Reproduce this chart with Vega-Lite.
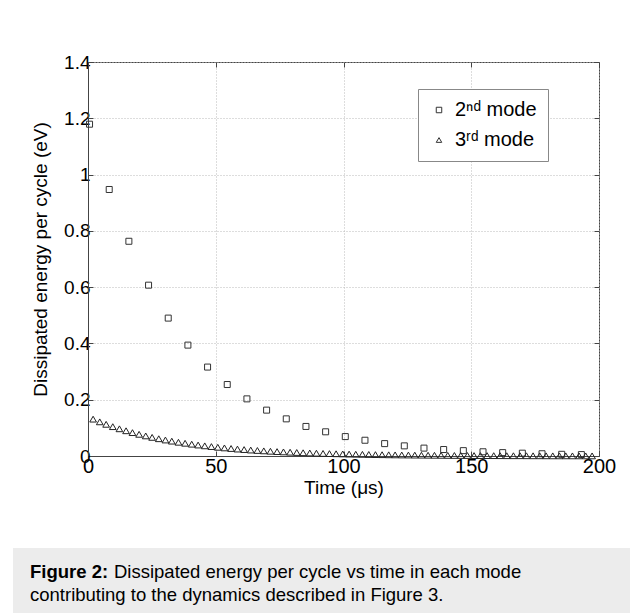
{
  "$schema": "https://vega.github.io/schema/vega-lite/v6.json",
  "padding": {"left": 13, "top": 52, "right": 0, "bottom": 0},
  "background": "white",
  "spacing": 50,
  "config": {"font": "Liberation Sans", "view": {"stroke": null}},
  "vconcat": [
    {
      "spacing": 0,
      "hconcat": [
        {
          "width": 1,
          "height": 394,
          "data": {"values": []},
          "mark": {"type": "point", "opacity": 0}
        },
        {
          "width": 511,
          "height": 394,
          "view": {"stroke": "#444", "strokeWidth": 1},
          "data": {"values": [
            {"t": 0.6, "e": 1.179, "mode": "2nd"},
            {"t": 8.3, "e": 0.947, "mode": "2nd"},
            {"t": 16.0, "e": 0.763, "mode": "2nd"},
            {"t": 23.7, "e": 0.607, "mode": "2nd"},
            {"t": 31.4, "e": 0.490, "mode": "2nd"},
            {"t": 39.1, "e": 0.394, "mode": "2nd"},
            {"t": 46.8, "e": 0.316, "mode": "2nd"},
            {"t": 54.5, "e": 0.254, "mode": "2nd"},
            {"t": 62.2, "e": 0.203, "mode": "2nd"},
            {"t": 69.9, "e": 0.163, "mode": "2nd"},
            {"t": 77.6, "e": 0.132, "mode": "2nd"},
            {"t": 85.3, "e": 0.105, "mode": "2nd"},
            {"t": 93.0, "e": 0.086, "mode": "2nd"},
            {"t": 100.7, "e": 0.069, "mode": "2nd"},
            {"t": 108.4, "e": 0.056, "mode": "2nd"},
            {"t": 116.1, "e": 0.044, "mode": "2nd"},
            {"t": 123.8, "e": 0.036, "mode": "2nd"},
            {"t": 131.5, "e": 0.028, "mode": "2nd"},
            {"t": 139.2, "e": 0.023, "mode": "2nd"},
            {"t": 146.9, "e": 0.019, "mode": "2nd"},
            {"t": 154.6, "e": 0.015, "mode": "2nd"},
            {"t": 162.3, "e": 0.012, "mode": "2nd"},
            {"t": 170.0, "e": 0.010, "mode": "2nd"},
            {"t": 177.7, "e": 0.008, "mode": "2nd"},
            {"t": 185.4, "e": 0.006, "mode": "2nd"},
            {"t": 193.1, "e": 0.005, "mode": "2nd"},
            {"t": 2.0, "e": 0.131, "mode": "3rd"},
            {"t": 4.6, "e": 0.1214, "mode": "3rd"},
            {"t": 7.1, "e": 0.1126, "mode": "3rd"},
            {"t": 9.7, "e": 0.1043, "mode": "3rd"},
            {"t": 12.3, "e": 0.0967, "mode": "3rd"},
            {"t": 14.9, "e": 0.0897, "mode": "3rd"},
            {"t": 17.4, "e": 0.0831, "mode": "3rd"},
            {"t": 20.0, "e": 0.0771, "mode": "3rd"},
            {"t": 22.6, "e": 0.0714, "mode": "3rd"},
            {"t": 25.1, "e": 0.0662, "mode": "3rd"},
            {"t": 27.7, "e": 0.0614, "mode": "3rd"},
            {"t": 30.3, "e": 0.0569, "mode": "3rd"},
            {"t": 32.8, "e": 0.0528, "mode": "3rd"},
            {"t": 35.4, "e": 0.0489, "mode": "3rd"},
            {"t": 38.0, "e": 0.0453, "mode": "3rd"},
            {"t": 40.6, "e": 0.0420, "mode": "3rd"},
            {"t": 43.1, "e": 0.0390, "mode": "3rd"},
            {"t": 45.7, "e": 0.0361, "mode": "3rd"},
            {"t": 48.3, "e": 0.0335, "mode": "3rd"},
            {"t": 50.8, "e": 0.0310, "mode": "3rd"},
            {"t": 53.4, "e": 0.0288, "mode": "3rd"},
            {"t": 56.0, "e": 0.0267, "mode": "3rd"},
            {"t": 58.5, "e": 0.0247, "mode": "3rd"},
            {"t": 61.1, "e": 0.0229, "mode": "3rd"},
            {"t": 63.7, "e": 0.0212, "mode": "3rd"},
            {"t": 66.3, "e": 0.0197, "mode": "3rd"},
            {"t": 68.8, "e": 0.0183, "mode": "3rd"},
            {"t": 71.4, "e": 0.0169, "mode": "3rd"},
            {"t": 74.0, "e": 0.0157, "mode": "3rd"},
            {"t": 76.5, "e": 0.0146, "mode": "3rd"},
            {"t": 79.1, "e": 0.0135, "mode": "3rd"},
            {"t": 81.7, "e": 0.0125, "mode": "3rd"},
            {"t": 84.2, "e": 0.0116, "mode": "3rd"},
            {"t": 86.8, "e": 0.0108, "mode": "3rd"},
            {"t": 89.4, "e": 0.0100, "mode": "3rd"},
            {"t": 92.0, "e": 0.0092, "mode": "3rd"},
            {"t": 94.5, "e": 0.0086, "mode": "3rd"},
            {"t": 97.1, "e": 0.0080, "mode": "3rd"},
            {"t": 99.7, "e": 0.0074, "mode": "3rd"},
            {"t": 102.2, "e": 0.0068, "mode": "3rd"},
            {"t": 104.8, "e": 0.0063, "mode": "3rd"},
            {"t": 107.4, "e": 0.0059, "mode": "3rd"},
            {"t": 109.9, "e": 0.0054, "mode": "3rd"},
            {"t": 112.5, "e": 0.0050, "mode": "3rd"},
            {"t": 115.1, "e": 0.0047, "mode": "3rd"},
            {"t": 117.7, "e": 0.0043, "mode": "3rd"},
            {"t": 120.2, "e": 0.0040, "mode": "3rd"},
            {"t": 122.8, "e": 0.0037, "mode": "3rd"},
            {"t": 125.4, "e": 0.0035, "mode": "3rd"},
            {"t": 127.9, "e": 0.0032, "mode": "3rd"},
            {"t": 130.5, "e": 0.0030, "mode": "3rd"},
            {"t": 133.1, "e": 0.0028, "mode": "3rd"},
            {"t": 135.6, "e": 0.0026, "mode": "3rd"},
            {"t": 138.2, "e": 0.0024, "mode": "3rd"},
            {"t": 140.8, "e": 0.0022, "mode": "3rd"},
            {"t": 143.4, "e": 0.0020, "mode": "3rd"},
            {"t": 145.9, "e": 0.0019, "mode": "3rd"},
            {"t": 148.5, "e": 0.0018, "mode": "3rd"},
            {"t": 151.1, "e": 0.0016, "mode": "3rd"},
            {"t": 153.6, "e": 0.0015, "mode": "3rd"},
            {"t": 156.2, "e": 0.0014, "mode": "3rd"},
            {"t": 158.8, "e": 0.0013, "mode": "3rd"},
            {"t": 161.3, "e": 0.0012, "mode": "3rd"},
            {"t": 163.9, "e": 0.0011, "mode": "3rd"},
            {"t": 166.5, "e": 0.0010, "mode": "3rd"},
            {"t": 169.1, "e": 0.0010, "mode": "3rd"},
            {"t": 171.6, "e": 0.0009, "mode": "3rd"},
            {"t": 174.2, "e": 0.0008, "mode": "3rd"},
            {"t": 176.8, "e": 0.0008, "mode": "3rd"},
            {"t": 179.3, "e": 0.0007, "mode": "3rd"},
            {"t": 181.9, "e": 0.0006, "mode": "3rd"},
            {"t": 184.5, "e": 0.0006, "mode": "3rd"},
            {"t": 187.0, "e": 0.0006, "mode": "3rd"},
            {"t": 189.6, "e": 0.0005, "mode": "3rd"},
            {"t": 192.2, "e": 0.0005, "mode": "3rd"},
            {"t": 194.8, "e": 0.0004, "mode": "3rd"},
            {"t": 197.3, "e": 0.0004, "mode": "3rd"}
          ]},
          "encoding": {
            "x": {
              "field": "t", "type": "quantitative",
              "scale": {"domain": [0, 200], "nice": false},
              "title": "Time (μs)",
              "axis": {
                "orient": "bottom", "values": [0, 50, 100, 150, 200],
                "grid": true, "gridColor": "#bbb", "gridDash": [1, 2], "gridWidth": 1,
                "tickSize": -5, "tickColor": "#444", "domainColor": "#444",
                "labelFontSize": 20, "labelColor": "black", "labelPadding": 5, "labelFlush": false,
                "titleFontSize": 19, "titleColor": "black", "titleFontWeight": "normal", "titlePadding": 2
              }
            },
            "y": {
              "field": "e", "type": "quantitative",
              "scale": {"domain": [0, 1.4], "nice": false},
              "title": "Dissipated energy per cycle (eV)",
              "axis": {
                "orient": "left", "values": [0, 0.2, 0.4, 0.6, 0.8, 1, 1.2, 1.4], "format": "~g",
                "grid": true, "gridColor": "#bbb", "gridDash": [1, 2], "gridWidth": 1,
                "tickSize": -5, "tickColor": "#444", "domainColor": "#444",
                "labelFontSize": 19, "labelColor": "black", "labelPadding": 3, "labelFlush": false,
                "titleFontSize": 19, "titleColor": "black", "titleFontWeight": "normal",
                "minExtent": 73, "titleX": -38, "titleY": 197, "titleBaseline": "bottom", "titleAngle": 270, "titleAlign": "center"
              }
            },
            "shape": {
              "field": "mode", "type": "nominal",
              "scale": {"domain": ["2nd", "3rd"], "range": ["square", "triangle-up"]},
              "legend": {
                "orient": "none", "legendX": 405, "legendY": 27, "title": null,
                "strokeColor": "#888", "fillColor": "white", "padding": 11, "rowPadding": 10,
                "symbolSize": 30, "symbolStrokeWidth": 1, "symbolStrokeColor": "#333", "symbolFillColor": "transparent",
                "labelFontSize": 20, "labelColor": "black", "labelOffset": 6,
                "labelExpr": "datum.label === '2nd' ? '2ⁿᵈ mode' : '3ʳᵈ mode'"
              }
            }
          },
          "layer": [
            {
              "transform": [{"filter": "datum.mode === '2nd'"}],
              "mark": {"type": "point", "filled": false, "color": "#333", "strokeWidth": 1, "size": 36, "opacity": 1}
            },
            {
              "transform": [{"filter": "datum.mode === '3rd'"}],
              "mark": {"type": "point", "filled": false, "color": "#222", "strokeWidth": 1, "size": 45, "opacity": 1},
              "encoding": {
                "x": {
                  "field": "t", "type": "quantitative",
                  "scale": {"domain": [0, 200], "nice": false},
                  "axis": {"orient": "top", "values": [0, 50, 100, 150, 200], "labels": false, "title": null, "grid": false, "domain": false, "tickSize": -5, "tickColor": "#444"}
                },
                "y": {
                  "field": "e", "type": "quantitative",
                  "scale": {"domain": [0, 1.4], "nice": false},
                  "axis": {"orient": "right", "values": [0, 0.2, 0.4, 0.6, 0.8, 1, 1.2, 1.4], "labels": false, "title": null, "grid": false, "domain": false, "tickSize": -5, "tickColor": "#444"}
                }
              }
            }
          ],
          "resolve": {"axis": {"x": "independent", "y": "independent"}}
        }
      ]
    },
    {
      "width": 617,
      "height": 66,
      "view": {"fill": "#ececec", "stroke": null},
      "data": {"values": [
        {"line": 1, "bold": "Figure 2:", "text": "Dissipated energy per cycle vs time in each mode"},
        {"line": 2, "bold": "", "text": "contributing to the dynamics described in Figure 3."}
      ]},
      "encoding": {
        "x": {"datum": 0, "type": "quantitative", "scale": {"domain": [0, 1]}, "axis": null},
        "y": {"field": "line", "type": "ordinal", "scale": {"type": "point", "domain": [1, 2], "range": [30, 53], "padding": 0}, "axis": null}
      },
      "layer": [
        {
          "transform": [{"filter": "datum.line === 1"}],
          "mark": {"type": "text", "align": "left", "baseline": "alphabetic", "dx": 17, "fontSize": 18.5, "fontWeight": "bold", "color": "black"},
          "encoding": {"text": {"field": "bold"}}
        },
        {
          "transform": [{"filter": "datum.line === 1"}],
          "mark": {"type": "text", "align": "left", "baseline": "alphabetic", "dx": 101, "fontSize": 18.5, "color": "black"},
          "encoding": {"text": {"field": "text"}}
        },
        {
          "transform": [{"filter": "datum.line === 2"}],
          "mark": {"type": "text", "align": "left", "baseline": "alphabetic", "dx": 17, "fontSize": 18.5, "color": "black"},
          "encoding": {"text": {"field": "text"}}
        }
      ]
    }
  ]
}
